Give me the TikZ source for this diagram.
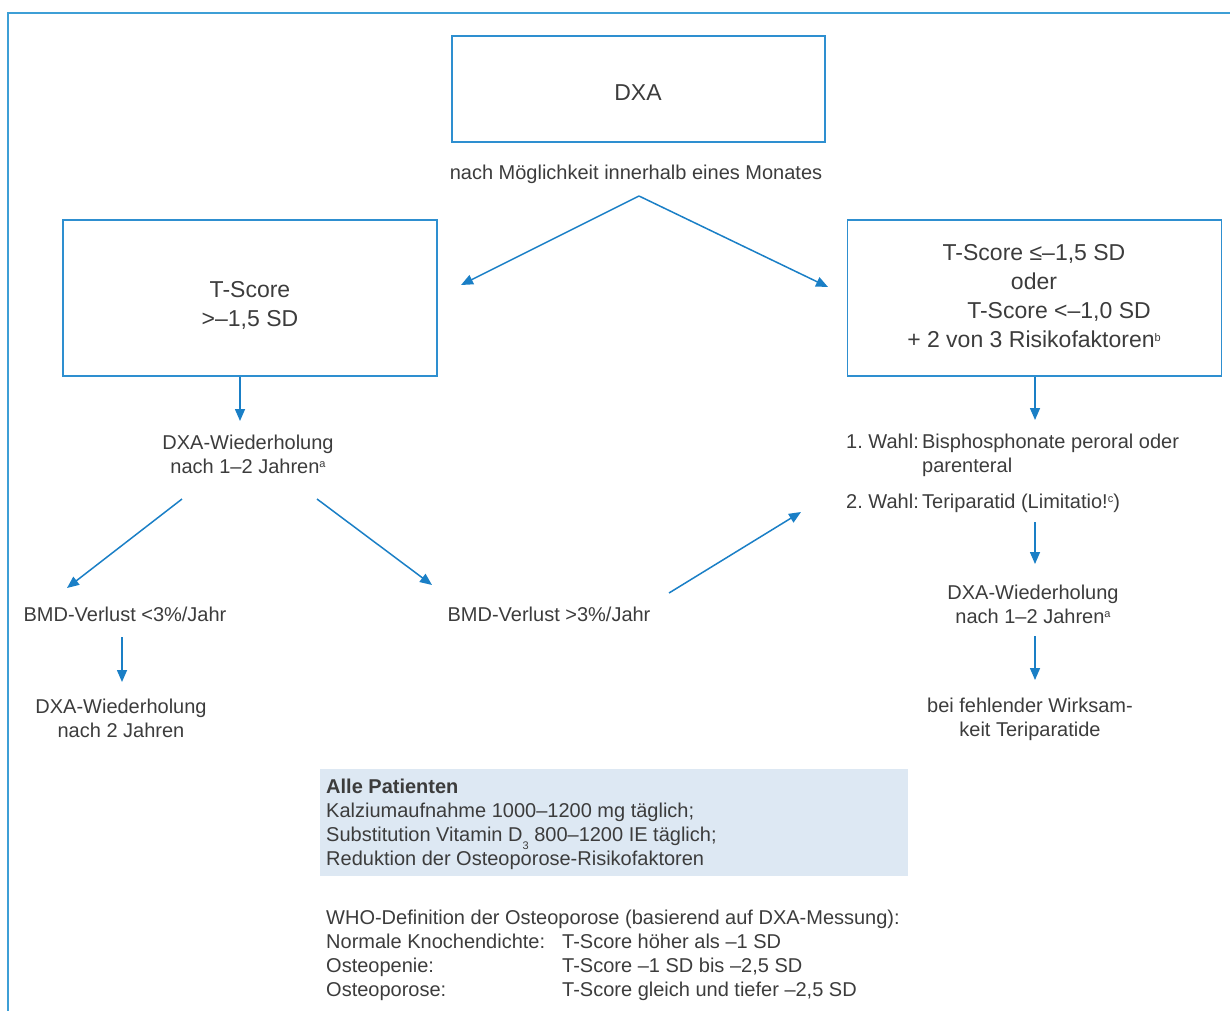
\documentclass[tikz,border=0pt]{standalone}
\usepackage{fontspec}
\setmainfont{Liberation Sans}
\usetikzlibrary{arrows.meta}
\definecolor{framec}{HTML}{3D9FD6}
\definecolor{boxc}{HTML}{2E8FD0}
\definecolor{arrc}{HTML}{1A7FC6}
\definecolor{txt}{HTML}{3C3C3C}
\definecolor{fillb}{HTML}{DDE8F3}
\newcommand{\mysup}[1]{\raisebox{0.55ex}{\fontsize{11}{11}\selectfont #1}}
\newcommand{\mysub}[1]{\raisebox{-0.75ex}{\fontsize{11}{11}\selectfont #1}}
\begin{document}
\begin{tikzpicture}[x=1pt,y=-1pt,
  every node/.style={text=txt, font=\fontsize{20}{24}\selectfont, inner sep=0pt},
  flowbox/.style={draw=boxc, line width=1.5pt, minimum width=374pt, minimum height=156pt},
  arr/.style={draw=arrc, line width=1.5pt, -{Triangle[length=12pt,width=10pt]}},
  btxt/.style={font=\fontsize{23}{29}\selectfont, align=center},
  ctxt/.style={align=center}]
\useasboundingbox (0,0) rectangle (1230,1010);
% frame
\draw[framec, line width=2.5pt] (8,1012) -- (8,13) -- (1232,13);
% boxes
\node[flowbox, minimum width=373pt, minimum height=106pt] (dxa) at (638.5,89) {};
\node[btxt] (dxat) at (638,93) {DXA};
\node (note) at (636,174) {nach Möglichkeit innerhalb eines Monates};
\node[flowbox] (lbox) at (250,298) {};
\node[btxt] (lboxt) at (250,305.5) {T-Score\\>–1,5 SD};
\node[flowbox] (rbox) at (1034.5,298) {};
\node[btxt] (rboxt) at (1034,296.5) {T-Score ≤–1,5 SD\\oder\\\hspace*{50pt}T-Score <–1,0 SD\\+ 2 von 3 Risikofaktoren\mysup{b}};
% left branch texts
\node[ctxt] (lrep) at (248,454.5) {DXA-Wiederholung\\nach 1–2 Jahren\mysup{a}};
\node (bmdlow) at (125,614.5) {BMD-Verlust <3\%/Jahr};
\node (bmdhigh) at (549,614.5) {BMD-Verlust >3\%/Jahr};
\node[ctxt] (lrep2) at (121,718) {DXA-Wiederholung\\nach 2 Jahren};
% right branch texts
\node[anchor=west] (therapy) at (846,474) {\begin{tabular}{@{}l@{\,}l@{}}1.\ Wahl: & Bisphosphonate peroral oder\\ & parenteral\\[12pt]2.\ Wahl: & Teriparatid (Limitatio!\mysup{c})\end{tabular}};
\node[ctxt] (rrep) at (1033,604.5) {DXA-Wiederholung\\nach 1–2 Jahren\mysup{a}};
\node[ctxt] (fail) at (1030,719) {bei fehlender Wirksam-\\keit Teriparatide};
% info box
\node[fill=fillb, minimum width=588pt, minimum height=107pt] (allbox) at (614,822.5) {};
\node[anchor=west, align=left] (allt) at (326,824) {\textbf{Alle Patienten}\\Kalziumaufnahme 1000–1200 mg täglich;\\Substitution Vitamin D\mysub{3} 800–1200 IE täglich;\\Reduktion der Osteoporose-Risikofaktoren};
\node[anchor=west] (who) at (326,956) {\begin{tabular}{@{}p{236pt}@{}l@{}}\multicolumn{2}{@{}l@{}}{WHO-Definition der Osteoporose (basierend auf DXA-Messung):}\\Normale Knochendichte: & T-Score höher als –1 SD\\Osteopenie: & T-Score –1 SD bis –2,5 SD\\Osteoporose: & T-Score gleich und tiefer –2,5 SD\end{tabular}};
% arrow end points
\coordinate (apex) at (639,196);
\coordinate (a1e) at (461,285);
\coordinate (a2e) at (828,287);
\coordinate (a3s) at (240,377);
\coordinate (a3e) at (240,421);
\coordinate (a4s) at (182,499);
\coordinate (a4e) at (67,588);
\coordinate (a5s) at (317,499);
\coordinate (a5e) at (432,585);
\coordinate (a6s) at (669,593);
\coordinate (a6e) at (801,512);
\coordinate (a7s) at (122,637);
\coordinate (a7e) at (122,682);
\coordinate (a8s) at (1035,377);
\coordinate (a8e) at (1035,420);
\coordinate (a9s) at (1035,522);
\coordinate (a9e) at (1035,564);
\coordinate (a10s) at (1035,636);
\coordinate (a10e) at (1035,680);
\draw[arr] (apex) -- (a1e);
\draw[arr] (apex) -- (a2e);
\draw[arr] (a3s) -- (a3e);
\draw[arr] (a4s) -- (a4e);
\draw[arr] (a5s) -- (a5e);
\draw[arr] (a6s) -- (a6e);
\draw[arr] (a7s) -- (a7e);
\draw[arr] (a8s) -- (a8e);
\draw[arr] (a9s) -- (a9e);
\draw[arr] (a10s) -- (a10e);
\end{tikzpicture}
\end{document}
